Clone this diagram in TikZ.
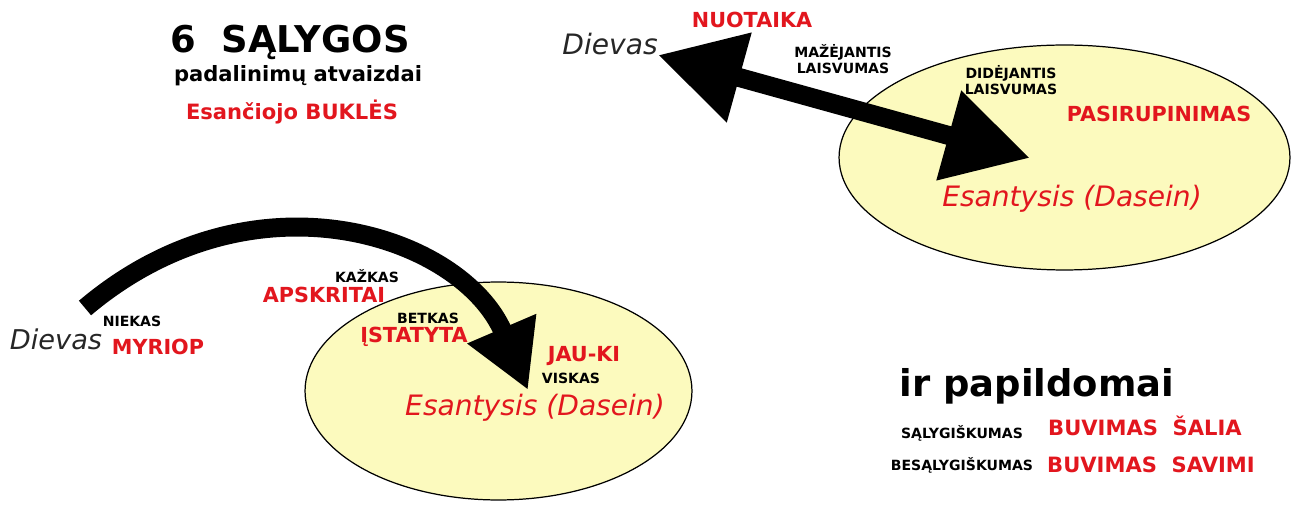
\documentclass[tikz,border=0pt]{standalone}
\usepackage{fontspec}
\setmainfont{DejaVu Sans}
\usetikzlibrary{arrows.meta,shapes.geometric}
\definecolor{labred}{RGB}{226,22,30}
\definecolor{eggshell}{RGB}{252,250,190}

\begin{document}
\begin{tikzpicture}[
        x=0.02cm, y=-0.02cm,
        >={Triangle[length=48pt,width=50pt]},
        blob/.style={ellipse, draw, line width=0.7pt, fill=eggshell, inner sep=0pt},
        fat/.style={line width=10.8pt},
        tag/.style={inner sep=0pt, anchor=base, align=center, font=\bfseries\fontsize{8}{9.4}\selectfont},
        hot/.style={inner sep=0pt, anchor=base, text=labred, font=\bfseries\fontsize{11.8}{13}\selectfont},
        god/.style={inner sep=0pt, anchor=base, text=black!85, font=\itshape\fontsize{16}{18}\selectfont},
        being/.style={god, text=labred}
        ]
            %\draw[lightgray] (0, 0) grid[step=50] (1294, 506);
            \useasboundingbox (0, 0) rectangle (1294, 506);
            
            \node[blob, minimum width=9.02cm, minimum height=4.5cm] (dasTop) at (1064.5, 157.5) {};
            \node[blob, minimum width=7.74cm, minimum height=4.36cm] (dasBot) at (498.5, 391) {};
            
            % heading
            \node[anchor=base, inner sep=0pt, font=\bfseries\fontsize{21}{24}\selectfont] (head) at (290, 53) {6\ \ SĄLYGOS};
            \node[anchor=base, inner sep=0pt, font=\bfseries\fontsize{12}{14}\selectfont] (subhead) at (298, 82) {padalinimų atvaizdai};
            \node[hot, font=\bfseries\fontsize{12}{14}\selectfont] (state) at (292, 120) {Esančiojo BUKLĖS};
            
            % upper picture
            \node[god] (godTop) at (610, 55) {Dievas};
            \node[being] (beingTop) at (1072, 207) {Esantysis (Dasein)};
            \coordinate (tipTop) at (1030, 158);
            \draw[fat, <->] (godTop.base east) -- (tipTop);
            
            \node[hot] (nuot) at (752, 28) {NUOTAIKA};
            \node[hot] (rup) at (1159, 122) {PASIRUPINIMAS};
            \node[tag] (less) at (843, 74) {MAŽĖJANTIS\\LAISVUMAS};
            \node[tag] (more) at (1011, 95) {DIDĖJANTIS\\LAISVUMAS};
            
            % lower picture
            \node[god, font=\itshape\fontsize{15.5}{18}\selectfont] (godBot) at (56, 350) {Dievas};
            \node[being] (beingBot) at (535, 415) {Esantysis (Dasein)};
            \coordinate (arcStart) at (85, 308);
            \coordinate (arcTip) at (528, 390);
            \draw[fat, -{Triangle[length=38pt,width=40pt]}] (arcStart) .. controls (254, 165) and (462, 236) .. (arcTip);
            
            \node[tag] (niekas) at (132, 327) {NIEKAS};
            \node[hot] (myriop) at (158, 355) {MYRIOP};
            \node[tag] (kazkas) at (367, 283) {KAŽKAS};
            \node[hot] (apskr) at (324, 303) {APSKRITAI};
            \node[tag] (betkas) at (428, 323) {BETKAS};
            \node[hot] (istat) at (414, 342) {ĮSTATYTA};
            \node[hot] (jauki) at (584, 361) {JAU-KI};
            \node[tag] (viskas) at (571, 383) {VISKAS};
            
            % extra
            \node[anchor=base, inner sep=0pt, font=\bfseries\fontsize{21}{24}\selectfont] (extra) at (1037, 396) {ir papildomai};
            \node[tag] (cond) at (962, 438) {SĄLYGIŠKUMAS};
            \node[tag] (uncond) at (962, 470) {BESĄLYGIŠKUMAS};
            \node[hot, font=\bfseries\fontsize{12}{14}\selectfont] (beside) at (1145, 435) {BUVIMAS\ \ ŠALIA};
            \node[hot, font=\bfseries\fontsize{12}{14}\selectfont] (itself) at (1151, 472) {BUVIMAS\ \ SAVIMI};
        \end{tikzpicture}
\end{document}
